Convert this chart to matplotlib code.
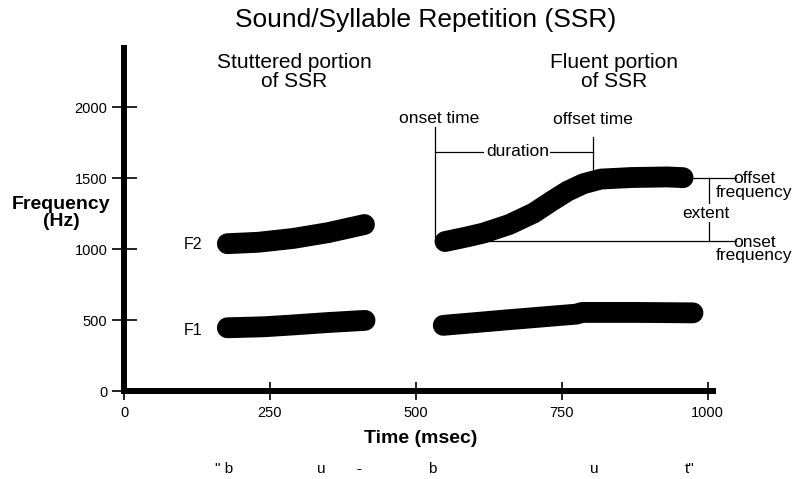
import numpy as np
import matplotlib
matplotlib.use('Agg')
import matplotlib.pyplot as plt
import matplotlib.transforms as mtransforms

plt.rcParams['font.family'] = ['Liberation Sans', 'DejaVu Sans']

# formant tracks (time in msec, frequency in Hz)
stut_t_f1 = [177, 240, 290, 350, 413]
stut_f1 = [448, 455, 468, 485, 500]
stut_t_f2 = [177, 230, 290, 350, 412]
stut_f2 = [1040, 1050, 1077, 1118, 1175]

flu_t_f1 = [547, 660, 775, 785, 880, 975]
flu_f1 = [465, 505, 544, 556, 556, 553]
flu_t_f2 = [550, 590, 616, 660, 702, 731, 760, 787, 817, 870, 931, 958]
flu_f2 = [1055, 1090, 1115, 1175, 1256, 1335, 1410, 1462, 1495, 1506, 1510, 1505]

# measurement markers for the fluent F2 transition
onset_time = 533
offset_time = 803
onset_freq = 1060
offset_freq = 1505
extent_time = 1003
freq_label_time = 1080

xticks = [0, 250, 500, 750, 1000]
yticks = [0, 500, 1000, 1500, 2000]

phones = ['" b', 'u', '-', 'b', 'u', 't"']
phone_times = [171, 338, 403, 528, 806, 969]

fig = plt.figure(figsize=(7.96, 4.79), dpi=100)
ax = fig.add_axes([0.1558, 0.1829, 0.7405, 0.7169])
ax.set_xlim(0, 1010)
ax.set_ylim(0, 2418)

for s in ['top', 'right']:
    ax.spines[s].set_visible(False)
for s in ['left', 'bottom']:
    ax.spines[s].set_linewidth(4.3)

ax.set_xticks(xticks)
ax.set_yticks(yticks)
ax.tick_params(axis='y', direction='inout', length=18, width=1.2, pad=3, labelsize=10.5)
ax.tick_params(axis='x', direction='inout', length=13, width=1.2, pad=4, labelsize=10.5)

band = dict(color='black', lw=15, solid_capstyle='round', solid_joinstyle='round')
ax.plot(stut_t_f1, stut_f1, **band)
ax.plot(stut_t_f2, stut_f2, **band)
ax.plot(flu_t_f1, flu_f1, **band)
ax.plot(flu_t_f2, flu_f2, **band)

thin = dict(color='black', lw=0.9, clip_on=False, zorder=1)
# onset / offset time lines and duration
ax.plot([onset_time, onset_time], [1862, onset_freq], **thin)
ax.plot([offset_time, offset_time], [1792, 1495], **thin)
ax.plot([onset_time, offset_time], [1686, 1686], **thin)
# onset / offset frequency lines and extent
ax.plot([onset_time, 1048], [onset_freq, onset_freq], **thin)
ax.plot([flu_t_f2[-1], 1048], [offset_freq, offset_freq], **thin)
ax.plot([extent_time, extent_time], [onset_freq, offset_freq], **thin)

wbox = dict(facecolor='white', edgecolor='none', pad=1)
fs = 12.5
ax.text(540, 1925, 'onset time', ha='center', va='center', fontsize=fs)
ax.text(offset_time, 1911, 'offset time', ha='center', va='center', fontsize=fs)
ax.text(674, 1686, 'duration', ha='center', va='center', fontsize=fs, bbox=wbox)
ax.text(997, 1255, 'extent', ha='center', va='center', fontsize=fs, bbox=wbox, clip_on=False)
ax.text(freq_label_time, 1450, 'offset\nfrequency', ha='center', va='center',
        fontsize=fs, linespacing=0.85, clip_on=False)
ax.text(freq_label_time, 1003, 'onset\nfrequency', ha='center', va='center',
        fontsize=fs, linespacing=0.85, clip_on=False)

ax.text(119, 1032, 'F2', ha='center', va='center', fontsize=11.5)
ax.text(119, 432, 'F1', ha='center', va='center', fontsize=11.5)

ax.text(292, 2249, 'Stuttered portion\nof SSR', ha='center', va='center',
        fontsize=15, linespacing=0.95)
ax.text(840, 2249, 'Fluent portion\nof SSR', ha='center', va='center',
        fontsize=15, linespacing=0.95)

ax.set_xlabel('Time (msec)', fontsize=14, fontweight='bold', va='top')
ax.xaxis.set_label_coords(0.504, -0.112)
ax.set_ylabel('Frequency\n(Hz)', fontsize=14, fontweight='bold', rotation=0,
              ha='center', va='center', linespacing=0.95)
ax.yaxis.set_label_coords(-0.107, 0.52)

trans = mtransforms.blended_transform_factory(ax.transData, fig.transFigure)
for ph, t in zip(phones, phone_times):
    ax.text(t, 0.021, ph, transform=trans, ha='center', va='center', fontsize=11, clip_on=False)

fig.text(0.535, 0.958, 'Sound/Syllable Repetition (SSR)', ha='center', va='center', fontsize=19)

fig.savefig('out.png', dpi=100)
